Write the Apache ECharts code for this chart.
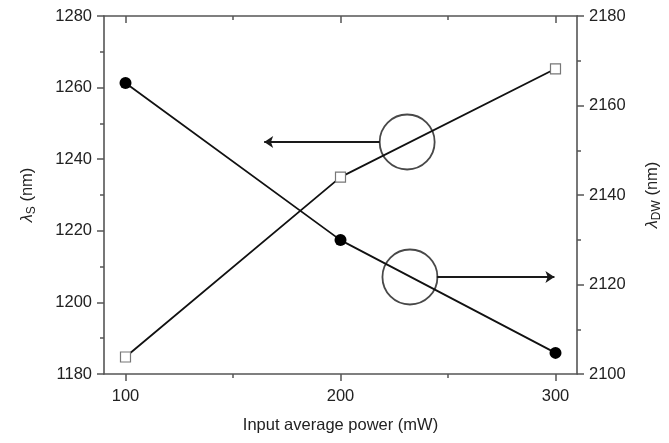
<!DOCTYPE html>
<html>
<head>
<meta charset="utf-8">
<script src="https://cdn.jsdelivr.net/npm/echarts@6/dist/echarts.min.js"></script>
<style>
  html, body { margin: 0; padding: 0; background: #fff; }
  #app { width: 669px; height: 443px; }
</style>
</head>
<body>
<div id="app"></div>
<script>
// input power (mW)
var power = [100, 200, 300];
// soliton wavelength, left axis
var lambdaS = [1261.3, 1217.4, 1185.9];
// dispersive wave wavelength, right axis
var lambdaDW = [2103.8, 2144.0, 2168.2];

var xTicks = [100, 200, 300];
var xMinor = [150, 250];

// annotation circles (x, left-axis y) and arrows
var ringCenters = [[231, 1244.8], [232.3, 1207.1]];
var arrowUpper = [[218.3, 1244.8], [164.5, 1244.8]];
var arrowLower = [[244.8, 1207.1], [299.5, 1207.1]];

var FONT = "Liberation Sans, Arial, sans-serif";
var TXT = "#222";
var AX = "#555";

function nameRich() {
  return {
    i: { fontSize: 16.5, fontStyle: "italic", fontFamily: FONT, color: TXT, lineHeight: 22 },
    s: { fontSize: 12, fontFamily: FONT, color: TXT, lineHeight: 12, verticalAlign: "bottom" },
    n: { fontSize: 16.5, fontFamily: FONT, color: TXT, lineHeight: 22 }
  };
}

var plain = function (v) { return String(v); };
var axisLine = { show: true, lineStyle: { color: AX, width: 1.6 } };

var option = {
  backgroundColor: "#fff",
  animation: false,
  grid: { left: 104, right: 92, top: 16, bottom: 69, containLabel: false, outerBoundsMode: "none" },
  xAxis: [
    {
      type: "value", min: 90, max: 310, position: "bottom",
      name: "Input average power (mW)", nameLocation: "middle", nameGap: 43,
      nameTextStyle: { fontSize: 16.5, fontFamily: FONT, color: TXT },
      axisLine: axisLine,
      axisTick: { show: true, inside: false, length: 7, customValues: xTicks, lineStyle: { color: AX, width: 1.5 } },
      axisLabel: { customValues: xTicks, margin: 14, fontSize: 16.5, fontFamily: FONT, color: TXT, formatter: plain },
      splitLine: { show: false }
    },
    {
      type: "value", min: 90, max: 310, position: "bottom",
      axisLine: { show: false },
      axisTick: { show: true, inside: false, length: 4, customValues: xMinor, lineStyle: { color: AX, width: 1.5 } },
      axisLabel: { show: false },
      splitLine: { show: false }
    },
    {
      type: "value", min: 90, max: 310, position: "top",
      axisLine: axisLine,
      axisTick: { show: true, inside: true, length: 7, customValues: xTicks, lineStyle: { color: AX, width: 1.5 } },
      axisLabel: { show: false },
      splitLine: { show: false }
    },
    {
      type: "value", min: 90, max: 310, position: "top",
      axisLine: { show: false },
      axisTick: { show: true, inside: true, length: 4, customValues: xMinor, lineStyle: { color: AX, width: 1.5 } },
      axisLabel: { show: false },
      splitLine: { show: false }
    }
  ],
  yAxis: [
    {
      type: "value", min: 1180, max: 1280, interval: 20, position: "left",
      name: "{i|λ}{s|S}{n| (nm)}", nameLocation: "middle", nameGap: 66, nameRotate: 90,
      nameTextStyle: { rich: nameRich() },
      axisLine: axisLine,
      axisTick: { show: true, inside: false, length: 7, lineStyle: { color: AX, width: 1.5 } },
      minorTick: { show: true, splitNumber: 2, length: 4, lineStyle: { color: AX, width: 1.5 } },
      axisLabel: { margin: 12, fontSize: 16.5, fontFamily: FONT, color: TXT, formatter: plain },
      splitLine: { show: false }
    },
    {
      type: "value", min: 2100, max: 2180, interval: 20, position: "right",
      name: "{i|λ}{s|DW}{n| (nm)}", nameLocation: "middle", nameGap: 64, nameRotate: 90,
      nameTextStyle: { rich: nameRich() },
      axisLine: axisLine,
      axisTick: { show: true, inside: false, length: 7, lineStyle: { color: AX, width: 1.5 } },
      minorTick: { show: true, splitNumber: 2, length: 4, lineStyle: { color: AX, width: 1.5 } },
      axisLabel: { margin: 12, fontSize: 16.5, fontFamily: FONT, color: TXT, formatter: plain },
      splitLine: { show: false }
    }
  ],
  series: [
    {
      name: "lambdaS", type: "line", xAxisIndex: 0, yAxisIndex: 0,
      data: power.map(function (p, i) { return [p, lambdaS[i]]; }),
      symbol: "circle", symbolSize: 12,
      lineStyle: { color: "#111", width: 1.8 },
      itemStyle: { color: "#000", borderWidth: 0 },
      z: 3
    },
    {
      name: "lambdaDW", type: "line", xAxisIndex: 0, yAxisIndex: 1,
      data: power.map(function (p, i) { return [p, lambdaDW[i]]; }),
      symbol: "rect", symbolSize: 10, showAllSymbol: true,
      lineStyle: { color: "#111", width: 1.8 },
      itemStyle: { color: "#fff", borderColor: "#777", borderWidth: 1.2 },
      z: 3
    },
    {
      name: "rings", type: "scatter", xAxisIndex: 0, yAxisIndex: 0,
      data: ringCenters, symbol: "circle", symbolSize: 55, silent: true,
      itemStyle: { color: "rgba(0,0,0,0)", borderColor: "#1a1a1a", borderWidth: 1.8 },
      z: 2
    },
    {
      name: "arrows", type: "lines", coordinateSystem: "cartesian2d",
      xAxisIndex: 0, yAxisIndex: 0, silent: true,
      symbol: ["none", "arrow"], symbolSize: 9,
      lineStyle: { color: "#1a1a1a", width: 1.8, opacity: 1, curveness: 0 },
      itemStyle: { color: "#1a1a1a" },
      data: [{ coords: arrowUpper }, { coords: arrowLower }],
      z: 2
    }
  ]
};

var chart = echarts.init(document.getElementById("app"));
chart.setOption(option);
</script>
</body>
</html>
